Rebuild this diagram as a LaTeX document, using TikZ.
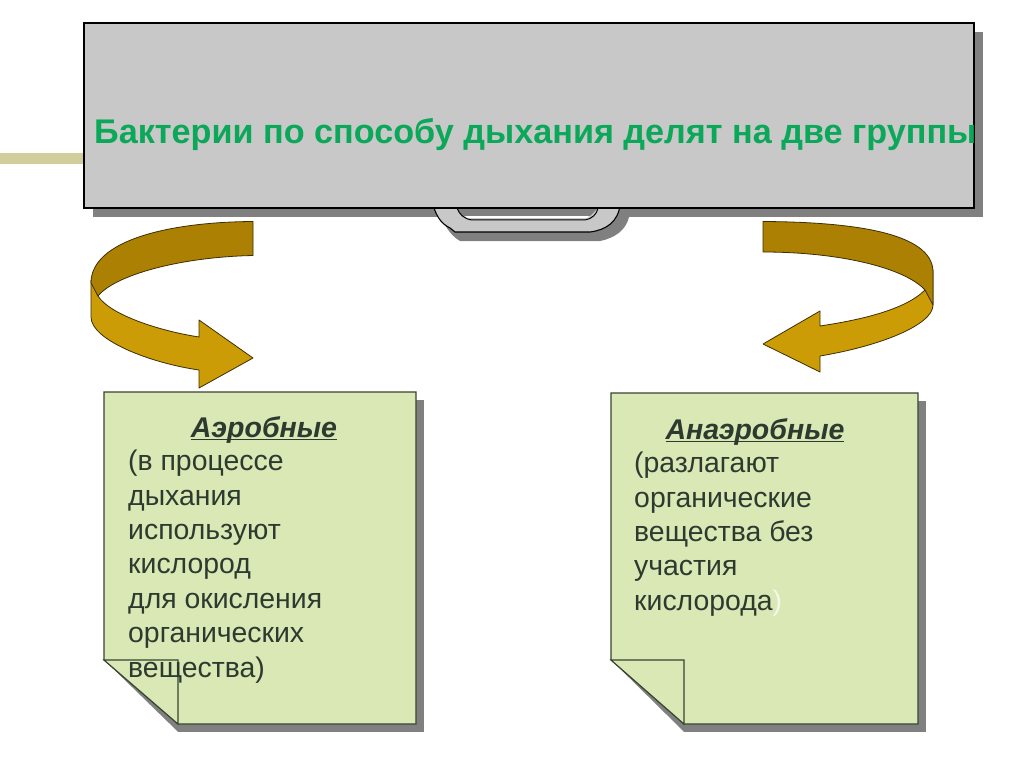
\documentclass[tikz,border=0pt]{standalone}
\usepackage{fontspec}
\setmainfont{Liberation Sans}
\definecolor{boardgray}{HTML}{C8C8C8}
\definecolor{shadowgray}{HTML}{808080}
\definecolor{railtan}{HTML}{D2CE9C}
\definecolor{notegreen}{HTML}{D9E8B4}
\definecolor{bandlight}{HTML}{CC9C06}
\definecolor{banddark}{HTML}{AB8003}
\definecolor{titlegreen}{HTML}{0BA85A}
\definecolor{bodyink}{HTML}{2E3A30}
\definecolor{noteline}{HTML}{36452F}
\newcommand{\headline}[1]{\setbox0\hbox{#1}\rlap{\rule[-3pt]{\wd0}{1.6pt}}\box0}
\tikzset{
  board/.style={draw=black,line width=1.1pt,fill=boardgray},
  shade/.style={fill=shadowgray,draw=none},
  note/.style={draw=noteline,line width=1.1pt,fill=notegreen},
  lightband/.style={draw=black!70!bandlight,line width=0.8pt,fill=bandlight,line join=round},
  darkband/.style={draw=black!70!bandlight,line width=0.8pt,fill=banddark,line join=round},
  head/.style={font=\fontsize{28.5}{34}\selectfont\bfseries\itshape,text=bodyink,inner sep=0pt},
  body/.style={font=\fontsize{28.4}{34.4}\selectfont,text=bodyink,align=left,inner sep=0pt,anchor=north west}
}
\begin{document}
\begin{tikzpicture}[x=1pt,y=-1pt]
  \useasboundingbox[fill=white] (0,0) rectangle (1024,767);
  % rail behind the board
  \fill[railtan] (0,153) rectangle (90,164);
  % tab under the board
  \path[shade] (441,217) .. controls (447,230) and (452,236) .. (460,241)
    -- (600,241) .. controls (615,238) and (626,230) .. (629,217) -- cycle;
  \path[shade] (93,32) rectangle (983,217);
  \draw[board] (433,205) .. controls (437,218) and (442,224) .. (450,228)
    -- (455,232) -- (590,232) .. controls (606,230) and (618,222) .. (620,205) -- cycle;
  \fill[white] (457,208) -- (467,218) -- (587,218) -- (598,208) -- cycle;
  \fill[shadowgray] (457,208) -- (462,216) -- (590,216) -- (598,208) -- cycle;
  \draw[black,line width=1pt] (457,208) .. controls (459,214) and (464,219) .. (472,220)
    -- (585,220) .. controls (592,219) and (597,214) .. (598,208);
  % board
  \draw[board] (84,23) rectangle (974,208);
  \node[font=\fontsize{34.2}{36}\selectfont\bfseries,text=titlegreen,inner sep=0pt,anchor=west]
    (title) at (94,135) {Бактерии по способу дыхания делят на две группы};
  % left ribbon arrow
  \draw[lightband] (91,280) -- (91,317)
    .. controls (91,340) and (150,363) .. (199,370) -- (199,388) -- (253,358)
    -- (199,320) -- (199,337)
    .. controls (160,331) and (110,315) .. (98,296) -- cycle;
  \draw[darkband] (253,221.5) .. controls (170,222) and (91,240) .. (91,283)
    -- (98,296) .. controls (115,275) and (180,257) .. (253,255.5) -- cycle;
  % right ribbon arrow
  \draw[lightband] (933,270) -- (933,305)
    .. controls (933,325) and (880,346) .. (820,356) -- (820,372) -- (763,344)
    -- (820,311) -- (820,326)
    .. controls (860,320) and (905,310) .. (925,290) -- cycle;
  \draw[darkband] (763,221.5) .. controls (850,222) and (933,232) .. (933,272) -- (933,305)
    -- (925,290) .. controls (905,268) and (840,252) .. (763,252) -- cycle;
  % left note
  \path[shade] (112,400) rectangle (424,732);
  \path[fill=white] (104,660) -- (104,732) -- (178,732) -- cycle;
  \draw[note] (104,392) -- (416,392) -- (416,724) -- (178,724) -- (104,660) -- cycle;
  \draw[note] (104,660) -- (178,660) -- (178,724) -- cycle;
  \node[head] (aerobes) at (264,430) {\headline{Аэробные}};
  \node[body] (aerobestext) at (128,450) {(в процессе\\дыхания\\используют\\кислород\\для окисления\\органических\\вещества)};
  % right note
  \path[shade] (619,401) rectangle (926,732);
  \path[fill=white] (611,660) -- (611,732) -- (684,732) -- cycle;
  \draw[note] (611,393) -- (918,393) -- (918,724) -- (684,724) -- (611,660) -- cycle;
  \draw[note] (611,660) -- (684,660) -- (684,724) -- cycle;
  \node[head] (anaerobes) at (755,432) {\headline{Анаэробные}};
  \node[body] (anaerobestext) at (634,452) {(разлагают\\органические\\вещества без\\участия\\кислорода\textcolor{white!70!notegreen}{)}};
\end{tikzpicture}
\end{document}
